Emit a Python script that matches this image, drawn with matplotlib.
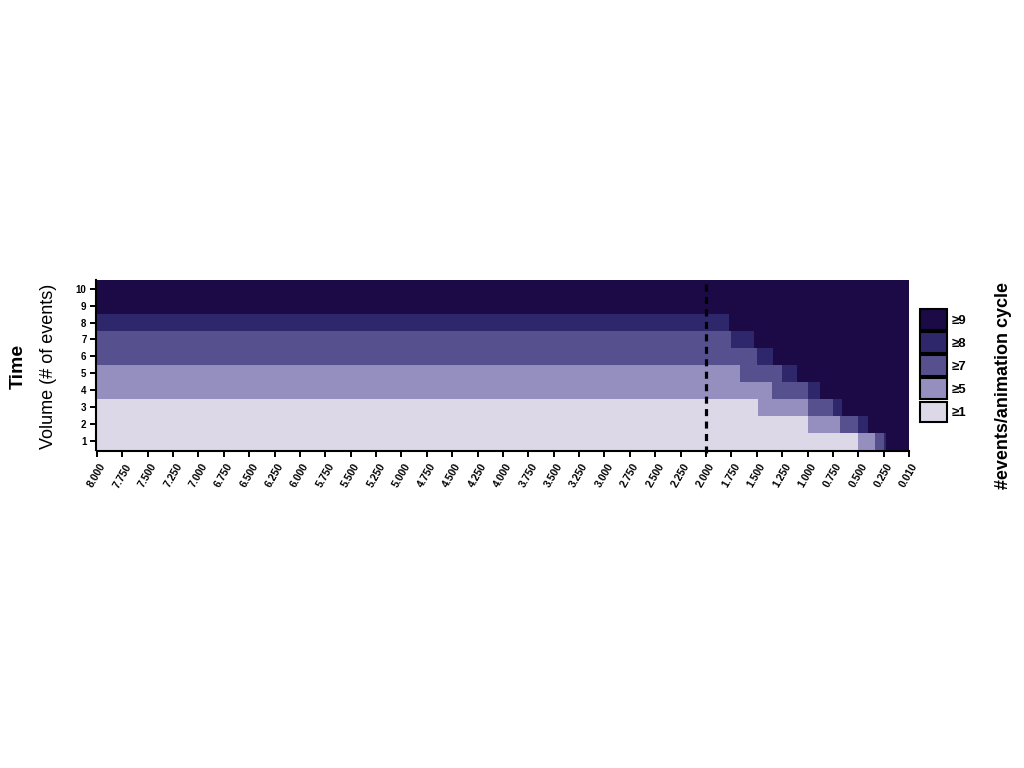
import numpy as np
import matplotlib
matplotlib.use("Agg")
import matplotlib.pyplot as plt
from matplotlib.colors import ListedColormap, BoundaryNorm
from matplotlib.patches import Patch

plt.rcParams['font.family'] = ['Liberation Sans', 'DejaVu Sans']

# ---- data ----
tick_times = [8.0, 7.75, 7.5, 7.25, 7.0, 6.75, 6.5, 6.25, 6.0, 5.75, 5.5, 5.25,
              5.0, 4.75, 4.5, 4.25, 4.0, 3.75, 3.5, 3.25, 3.0, 2.75, 2.5, 2.25,
              2.0, 1.75, 1.5, 1.25, 1.0, 0.75, 0.5, 0.25, 0.01]
tick_labels = ['8.000', '7.750', '7.500', '7.250', '7.000', '6.750', '6.500', '6.250',
               '6.000', '5.750', '5.500', '5.250', '5.000', '4.750', '4.500', '4.250',
               '4.000', '3.750', '3.500', '3.250', '3.000', '2.750', '2.500', '2.250',
               '2.000', '1.750', '1.500', '1.250', '1.000', '0.750', '0.500', '0.250',
               '0.010']
volumes = [1, 2, 3, 4, 5, 6, 7, 8, 9, 10]
level_labels = ['≥1', '≥5', '≥7', '≥8', '≥9']
level_colors = ['#dcd8e8', '#948fbe', '#56508f', '#2e276b', '#1b0a45']

# category each volume shows at long times (index into level_labels)
base_level = [0, 0, 0, 1, 1, 2, 2, 3, 4, 4]
# time (s) below which each volume reaches the given category (nan = never/already)
onset_ge5 = [0.50, 1.00, 1.49, np.nan, np.nan, np.nan, np.nan, np.nan, np.nan, np.nan]
onset_ge7 = [0.335, 0.675, 1.00, 1.35, 1.665, np.nan, np.nan, np.nan, np.nan, np.nan]
onset_ge8 = [0.25, 0.50, 0.75, 1.00, 1.25, 1.50, 1.75, np.nan, np.nan, np.nan]
onset_ge9 = [0.225, 0.405, 0.66, 0.877, 1.10, 1.34, 1.53, 1.775, np.nan, np.nan]

marker_time = 2.0

# ---- build grid ----
positions = np.arange(len(tick_times), dtype=float)
tt = np.array(tick_times)


def time_to_pos(t):
    return np.interp(t, tt[::-1], positions[::-1])


onsets = [onset_ge5, onset_ge7, onset_ge8, onset_ge9]
onset_pos = [[time_to_pos(t) if not np.isnan(t) else np.nan for t in o] for o in onsets]

edges = set(positions.tolist())
for op in onset_pos:
    for p in op:
        if not np.isnan(p):
            edges.add(round(float(p), 4))
x_edges = np.array(sorted(edges))
x_mid = 0.5 * (x_edges[:-1] + x_edges[1:])
y_edges = np.arange(len(volumes) + 1) + 0.5

levels = np.zeros((len(volumes), len(x_mid)))
for i in range(len(volumes)):
    for j, xm in enumerate(x_mid):
        lv = base_level[i]
        for k, op in enumerate(onset_pos):
            p = op[i]
            if not np.isnan(p) and xm >= p:
                lv = max(lv, k + 1)
        levels[i, j] = lv

cmap = ListedColormap(level_colors)
norm = BoundaryNorm(np.arange(-0.5, len(level_colors) + 0.5), cmap.N)

# ---- plot ----
fig = plt.figure(figsize=(10.24, 7.68), dpi=100)
ax = fig.add_axes([0.0947, 0.4141, 0.7930, 0.2213])
for s in ['top', 'right']:
    ax.spines[s].set_visible(False)
for s in ['left', 'bottom']:
    ax.spines[s].set_linewidth(1.5)
    ax.spines[s].set_position(('outward', 1))

ax.pcolormesh(x_edges, y_edges, levels, cmap=cmap, norm=norm, shading='flat')
ax.axvline(time_to_pos(marker_time), color='black', linestyle=(0, (2.2, 1.7)),
           linewidth=2.3, ymin=-0.02, ymax=1, clip_on=False)

ax.set_xlim(positions[0], positions[-1])
ax.set_ylim(0.5, len(volumes) + 0.5)
ax.tick_params(axis='both', direction='out', length=4.5, width=1.4, pad=2)
ax.tick_params(axis='x', pad=3)
ax.set_xticks(positions)
ax.set_xticklabels(tick_labels, fontsize=7.5, fontweight='bold', rotation=60,
                   ha='center', va='top')
ax.set_yticks(volumes)
ax.set_yticklabels([str(v) for v in volumes], fontsize=7, fontweight='bold')

fig.text(0.018, 0.523, 'Time', rotation=90, ha='center', va='center',
         fontsize=14, fontweight='bold')
fig.text(0.047, 0.523, 'Volume (# of events)', rotation=90, ha='center', va='center',
         fontsize=13)
fig.text(0.980, 0.498, '#events/animation cycle', rotation=90, ha='center',
         va='center', fontsize=13, fontweight='bold')

handles = [Patch(facecolor=c, edgecolor='black', linewidth=1.5)
           for c in level_colors[::-1]]
leg = fig.legend(handles, level_labels[::-1], loc='upper left',
                 bbox_to_anchor=(0.893, 0.604), frameon=False,
                 handlelength=2.1, handleheight=2.0, labelspacing=0.2,
                 handletextpad=0.35, borderaxespad=0,
                 prop={'size': 9.5, 'weight': 'bold'})

fig.savefig('out.png', dpi=100, facecolor='white')
